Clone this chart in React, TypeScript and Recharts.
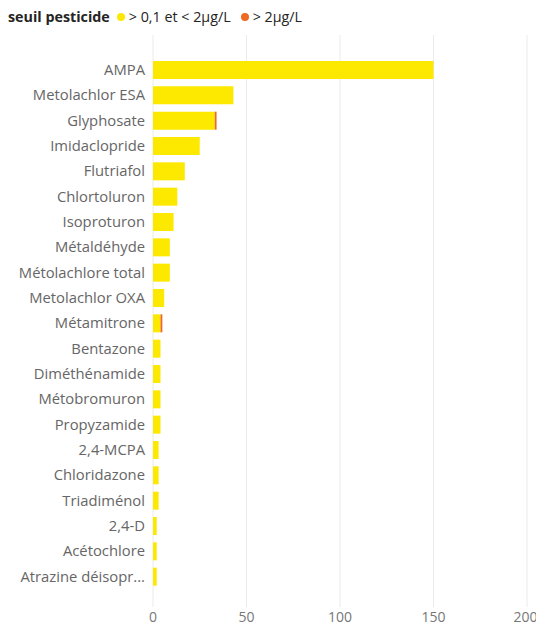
import React from 'react';
import { Bar, BarChart, CartesianGrid, XAxis, YAxis } from 'recharts';

const categories = [
  'AMPA',
  'Metolachlor ESA',
  'Glyphosate',
  'Imidaclopride',
  'Flutriafol',
  'Chlortoluron',
  'Isoproturon',
  'Métaldéhyde',
  'Métolachlore total',
  'Metolachlor OXA',
  'Métamitrone',
  'Bentazone',
  'Diméthénamide',
  'Métobromuron',
  'Propyzamide',
  '2,4-MCPA',
  'Chloridazone',
  'Triadiménol',
  '2,4-D',
  'Acétochlore',
  'Atrazine déisopropyl',
];

// > 0,1 et < 2µg/L
const lowValues = [150, 43, 33, 25, 17, 13, 11, 9, 9, 6, 4, 4, 4, 4, 4, 3, 3, 3, 2, 2, 2];
// > 2µg/L
const highValues = [0, 0, 1, 0, 0, 0, 0, 0, 0, 0, 1, 0, 0, 0, 0, 0, 0, 0, 0, 0, 0];

const xTicks = [0, 50, 100, 150, 200];

const YELLOW = '#FDE800';
const ORANGE = '#EC6A22';
const FONT = '"Open Sans", "Noto Sans", sans-serif';

const data = categories.map((name, i) => ({ name, low: lowValues[i], high: highValues[i] }));

const shorten = (s: string) => (s.length > 19 ? s.slice(0, 16) + '...' : s);

function LegendRow() {
  const dot = (color: string, gap: number) => (
    <span style={{ display: 'inline-block', width: 8, height: 8, borderRadius: 4, background: color, margin: `0 4px 1px ${gap}px` }} />
  );
  return (
    <div style={{ position: 'absolute', left: 8, top: 7, fontFamily: FONT, fontSize: 14.3, color: '#252423', whiteSpace: 'nowrap' }}>
      <span style={{ fontWeight: 700 }}>seuil pesticide</span>
      {dot(YELLOW, 7)}
      <span>&gt; 0,1 et &lt; 2µg/L</span>
      {dot(ORANGE, 10)}
      <span>&gt; 2µg/L</span>
    </div>
  );
}

export default function App() {
  return (
    <div style={{ position: 'absolute', left: 0, top: 0, width: 536, height: 628, background: '#fff' }}>
      <LegendRow />
      <BarChart
        width={536}
        height={628}
        data={data}
        layout="vertical"
        margin={{ top: 35, right: 9, bottom: 0, left: 0 }}
        style={{ fontFamily: FONT }}
      >
        <CartesianGrid horizontal={false} stroke="#ebebeb" />
        <XAxis
          type="number"
          domain={[0, 200]}
          ticks={xTicks}
          height={21}
          axisLine={false}
          tickLine={false}
          tickSize={3}
          tick={{ fill: '#777', fontSize: 14 }}
        />
        <YAxis
          type="category"
          dataKey="name"
          width={153}
          axisLine={false}
          tickLine={false}
          interval={0}
          padding={{ top: 22, bottom: 18 }}
          tickFormatter={shorten}
          tick={{ fill: '#666', fontSize: 14.8 }}
        />
        <Bar dataKey="low" stackId="a" fill={YELLOW} barSize={18} isAnimationActive={false} />
        <Bar dataKey="high" stackId="a" fill={ORANGE} barSize={18} isAnimationActive={false} />
      </BarChart>
    </div>
  );
}
